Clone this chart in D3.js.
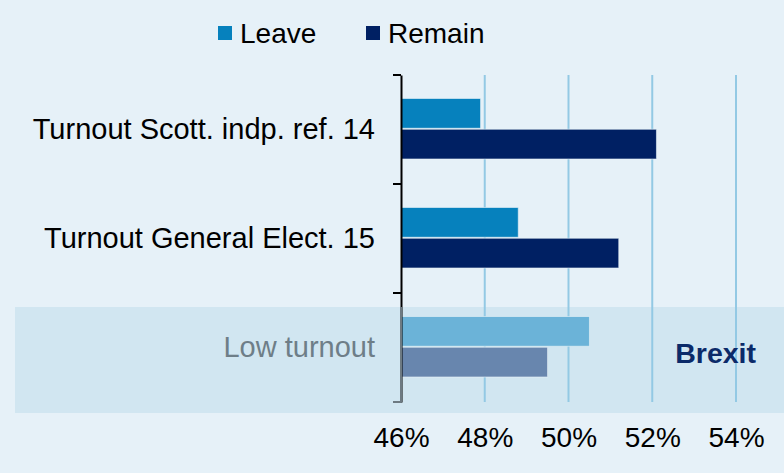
<!DOCTYPE html>
<html>
<head>
<meta charset="utf-8">
<script src="https://cdn.jsdelivr.net/npm/d3@7"></script>
<style>
  body { margin: 0; background: #e6f1f8; }
  svg { display: block; font-family: "Liberation Sans", Arial, sans-serif; }
</style>
</head>
<body>
<div class="main"></div>
<script>
// data
const categories = ["Turnout Scott. indp. ref. 14", "Turnout General Elect. 15", "Low turnout"];
const series = ["Leave", "Remain"];
const leaveValues = [47.9, 48.8, 50.5];
const remainValues = [52.1, 51.2, 49.5];
const xTicks = [46, 48, 50, 52, 54];

const w = 784, h = 473;
const plotLeft = 401, plotRight = 736, plotTop = 75, plotBottom = 402;

const colors = { Leave: "#0681bd", Remain: "#002063" };
const lowColors = { Leave: "#6bb3d8", Remain: "#6886ae" };

const rows = categories.map((c, i) => ({ cat: c, Leave: leaveValues[i], Remain: remainValues[i] }));

const xScale = d3.scaleLinear().domain([46, 54]).range([plotLeft, plotRight]);
const yScale = d3.scaleBand().domain(categories).range([plotTop, plotBottom]);
const ySub = d3.scaleBand().domain(series).range([23.5, 85]);

const svg = d3.select(".main")
  .append("svg")
  .attr("width", w)
  .attr("height", h);

// shaded band behind the last category
svg.append("rect")
  .attr("x", 15)
  .attr("y", yScale("Low turnout") + 14)
  .attr("width", w - 15)
  .attr("height", 106)
  .attr("fill", "#d1e6f1");

// gridlines
svg.append("g")
  .selectAll("line")
  .data(xTicks.slice(1))
  .enter()
  .append("line")
  .attr("x1", d => xScale(d))
  .attr("x2", d => xScale(d))
  .attr("y1", plotTop)
  .attr("y2", plotBottom)
  .attr("stroke", "#93c9e4")
  .attr("stroke-width", 2);

// bars
const groups = svg.append("g")
  .selectAll("g")
  .data(rows)
  .enter()
  .append("g")
  .attr("transform", d => "translate(0," + yScale(d.cat) + ")");

groups.selectAll("rect")
  .data(d => series.map(s => ({ s: s, v: d[s], low: d.cat === "Low turnout" })))
  .enter()
  .append("rect")
  .attr("x", xScale(46))
  .attr("y", d => ySub(d.s))
  .attr("width", d => xScale(d.v) - xScale(46))
  .attr("height", ySub.bandwidth() - 1)
  .attr("fill", d => d.low ? lowColors[d.s] : colors[d.s])
  .attr("stroke", "#e9f3f9")
  .attr("stroke-opacity", 0.6)
  .attr("stroke-width", 1);

// y axis
const yAxis = d3.axisLeft(yScale).tickValues([]).tickSizeOuter(0);
svg.append("g")
  .attr("transform", "translate(" + plotLeft + ",0)")
  .call(yAxis)
  .call(g => g.select(".domain").attr("stroke", "#000").attr("stroke-width", 2));

// tick marks at band boundaries
svg.append("g")
  .selectAll("line")
  .data([0, 1, 2, 3])
  .enter()
  .append("line")
  .attr("x1", plotLeft - 8)
  .attr("x2", plotLeft)
  .attr("y1", i => plotTop + i * yScale.step())
  .attr("y2", i => plotTop + i * yScale.step())
  .attr("stroke", i => i === 3 ? "#6d7a82" : "#000")
  .attr("stroke-width", 2);

// grey the axis inside the band
svg.append("line")
  .attr("x1", plotLeft).attr("x2", plotLeft)
  .attr("y1", yScale("Low turnout") + 14)
  .attr("y2", plotBottom)
  .attr("stroke", "#6d7a82")
  .attr("stroke-width", 2);

// category labels
svg.append("g")
  .selectAll("text")
  .data(categories)
  .enter()
  .append("text")
  .attr("x", 375)
  .attr("y", d => yScale(d) + yScale.bandwidth() / 2)
  .attr("dy", "0.32em")
  .attr("text-anchor", "end")
  .attr("font-size", 29)
  .attr("fill", d => d === "Low turnout" ? "#6e7e88" : "#000")
  .text(d => d);

// x axis labels
const xAxis = d3.axisBottom(xScale).tickValues(xTicks).tickFormat(d => d + "%").tickSize(0);
svg.append("g")
  .attr("transform", "translate(0," + 424 + ")")
  .call(xAxis)
  .call(g => g.select(".domain").remove())
  .call(g => g.selectAll("text")
    .attr("font-size", 28)
    .attr("font-family", "Liberation Sans, Arial, sans-serif")
    .attr("fill", "#000"));

// Brexit annotation
svg.append("text")
  .attr("x", 756)
  .attr("y", 363)
  .attr("text-anchor", "end")
  .attr("font-size", 28.5)
  .attr("font-weight", "bold")
  .attr("fill", "#0b2a69")
  .text("Brexit");

// legend
const legend = svg.append("g")
  .selectAll("g")
  .data(series)
  .enter()
  .append("g")
  .attr("transform", (d, i) => "translate(" + (i === 0 ? 218 : 366) + ",0)");

legend.append("rect")
  .attr("x", 0)
  .attr("y", 26)
  .attr("width", 14)
  .attr("height", 14)
  .attr("fill", d => colors[d]);

legend.append("text")
  .attr("x", 22)
  .attr("y", 43)
  .attr("font-size", 28)
  .attr("fill", "#000")
  .text(d => d);
</script>
</body>
</html>
